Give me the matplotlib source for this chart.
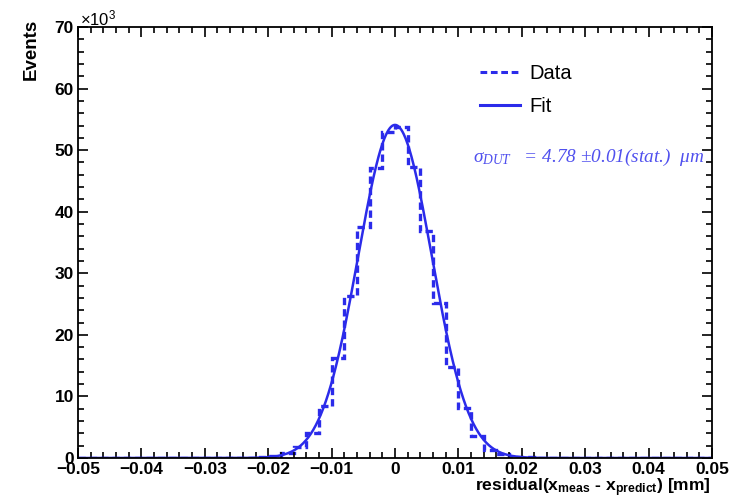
import numpy as np
import matplotlib
matplotlib.use('Agg')
import matplotlib.pyplot as plt
from matplotlib.lines import Line2D
from matplotlib.ticker import MultipleLocator, FuncFormatter

# histogram of residuals, counts in units of 10^3, bin width 0.002 mm
bin_lo = -0.05
bin_width = 0.002
counts = [0, 0, 0, 0, 0, 0, 0, 0, 0, 0,
          0, 0, 0, 0.05, 0.1, 0.3, 0.8, 1.8, 4.1, 8.4,
          16.2, 26.3, 37.5, 47.1, 52.9, 53.8, 47.3, 36.9, 25.2, 14.8,
          8.1, 3.5, 1.3, 0.6, 0.2, 0.1, 0.05, 0, 0, 0,
          0, 0, 0, 0, 0, 0, 0, 0, 0, 0]

# gaussian fit parameters
fit_amp = 54.1
fit_mean = 0.0
fit_sigma = 0.0058

sigma_text = r'$\sigma_{DUT}$   = 4.78 $\pm$0.01(stat.)  $\mu$m'

blue = '#2b2bea'
sans = ['Liberation Sans', 'DejaVu Sans']

plt.rcParams['mathtext.default'] = 'regular'

fig = plt.figure(figsize=(7.42, 4.98), dpi=100)
ax = fig.add_axes([78/742, 1 - 458/498, 634/742, 431/498])

edges = bin_lo + bin_width * np.arange(len(counts) + 1)
ax.stairs(counts, edges, color=blue, lw=2.4, ls=(0, (2.2, 1.2)))

xf = np.linspace(-0.05, 0.05, 1001)
yf = fit_amp * np.exp(-0.5 * ((xf - fit_mean) / fit_sigma) ** 2)
ax.plot(xf, yf, color=blue, lw=1.8)

ax.set_xlim(-0.05, 0.05)
ax.set_ylim(0, 70)
ax.xaxis.set_major_locator(MultipleLocator(0.01))
ax.xaxis.set_minor_locator(MultipleLocator(0.002))
ax.yaxis.set_major_locator(MultipleLocator(10))
ax.yaxis.set_minor_locator(MultipleLocator(2))

def xfmt(v, pos):
    if abs(v) < 1e-9:
        return '0'
    return ('%.2f' % v).replace('-', '\u2212')

ax.xaxis.set_major_formatter(FuncFormatter(xfmt))
ax.yaxis.set_major_formatter(FuncFormatter(lambda v, p: '%d' % v))

ax.tick_params(which='both', direction='in', top=True, right=True, width=1.2)
ax.tick_params(which='major', length=7)
ax.tick_params(which='minor', length=4)
ax.tick_params(axis='x', pad=3)
ax.tick_params(axis='y', pad=3)
for lab in ax.get_xticklabels() + ax.get_yticklabels():
    lab.set_family(sans)
    lab.set_fontweight('bold')
    lab.set_fontsize(12.5)
for s in ax.spines.values():
    s.set_linewidth(1.3)

fig.text(80/742, 1 - 18/498, r'$\times10^{3}$', fontsize=12, family=sans,
         ha='left', va='center')

fig.text(31/742, 1 - 19/498, 'Events', rotation=90, ha='center', va='top',
         fontsize=13.5, fontweight='bold', family=sans)
fig.text(711/742, 1 - 491/498, r'residual(x$_{meas}$ - x$_{predict}$) [mm]',
         ha='right', va='baseline', fontsize=12.6, fontweight='bold', family=sans)

handles = [Line2D([], [], color=blue, lw=2.2, ls=(0, (2.2, 1.2))),
           Line2D([], [], color=blue, lw=2.2)]
ax.legend(handles, ['Data', 'Fit'], loc='upper left',
          bbox_to_anchor=((470 - 78) / 634, (458 - 54) / 431),
          frameon=False, borderpad=0, handlelength=2.0, handletextpad=0.45,
          labelspacing=0.7, prop={'family': 'Liberation Sans', 'size': 14.5})

ax.text((473 - 78) / 634, (458 - 157) / 431, sigma_text, transform=ax.transAxes,
        ha='left', va='center', color='#5050ee', fontsize=13.9,
        family='Liberation Serif', style='italic')

fig.savefig('out.png', dpi=100)
